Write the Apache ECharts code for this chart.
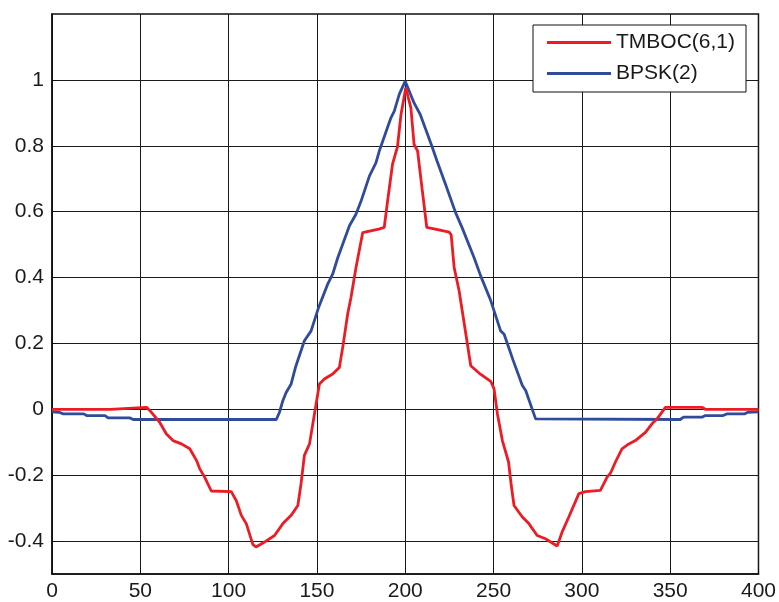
<!DOCTYPE html>
<html>
<head>
<meta charset="utf-8">
<script src="https://cdn.jsdelivr.net/npm/echarts@6/dist/echarts.min.js"></script>
<style>html,body{margin:0;padding:0;background:#fff;}#c{width:779px;height:602px;}</style>
</head>
<body>
<div id="c"></div>
<script>
var seriesNames = ['TMBOC(6,1)', 'BPSK(2)'];
var xTicks = [0, 50, 100, 150, 200, 250, 300, 350, 400];
var yTicks = [-0.4, -0.2, 0, 0.2, 0.4, 0.6, 0.8, 1];

var tmbocData = [
  [0,0],[33,0],[34,0.006],[53.5,0.006],[56.3,-0.009],[61,-0.04],[64.8,-0.075],[68.5,-0.095],
  [73.3,-0.105],[78,-0.12],[81.8,-0.155],[83.6,-0.18],[86.4,-0.206],[90.2,-0.248],[101.5,-0.25],
  [104.3,-0.277],[107.2,-0.322],[110,-0.347],[113.7,-0.41],[115.5,-0.418],[120.3,-0.403],
  [126,-0.383],[130.7,-0.347],[135.4,-0.322],[139.2,-0.292],[141,-0.226],[142.9,-0.14],
  [145.8,-0.105],[148.6,-0.014],[151.4,0.077],[154.2,0.092],[158.9,0.107],[162.7,0.127],
  [164.6,0.188],[167.4,0.289],[169.3,0.34],[172.1,0.43],[175.9,0.536],[179.7,0.541],
  [185,0.547],[188.1,0.552],[190,0.632],[192.8,0.744],[195.6,0.797],[197.6,0.895],
  [200.3,0.976],[203.2,0.915],[205,0.804],[207,0.784],[209.8,0.658],[212.2,0.552],
  [219,0.545],[224.9,0.538],[226,0.53],[227.7,0.43],[230.5,0.36],[235.2,0.198],[237.1,0.132],
  [241.8,0.11],[248.4,0.085],[250.3,0.062],[252.2,-0.014],[255,-0.095],[258.5,-0.16],
  [260,-0.23],[261.6,-0.292],[266.3,-0.327],[270,-0.347],[274.7,-0.383],[279.4,-0.393],
  [286,-0.415],[288.8,-0.373],[292.6,-0.327],[298.3,-0.256],[302,-0.25],[310.5,-0.246],
  [314.3,-0.206],[316.2,-0.194],[319,-0.16],[322.7,-0.12],[326.6,-0.105],[330.3,-0.095],
  [336,-0.07],[339.7,-0.044],[342.6,-0.029],[347.3,0.006],[368,0.006],[369.9,0],[400,0]
];

var bpskData = [
  [0,-0.008],[4,-0.009],[6.4,-0.014],[18,-0.014],[19.6,-0.019],[30,-0.019],[31.8,-0.026],
  [44,-0.026],[46,-0.031],[127,-0.031],[128.8,-0.009],[130.7,0.026],[132.5,0.05],[135.4,0.077],
  [138,0.13],[142.9,0.208],[146.7,0.238],[151,0.31],[156.1,0.38],[158.9,0.41],[161.8,0.46],
  [168.4,0.557],[172.1,0.592],[175,0.632],[179.7,0.708],[183.4,0.748],[185.3,0.784],
  [191.9,0.885],[193.8,0.905],[196.6,0.956],[200,0.996],[205,0.93],[208.5,0.895],[215,0.80],
  [218,0.754],[223,0.68],[228.5,0.597],[232.3,0.55],[239,0.46],[242.7,0.405],[248.4,0.33],
  [254,0.238],[256,0.228],[261,0.15],[266.3,0.072],[268.2,0.057],[273.8,-0.029],[355.7,-0.031],
  [357.6,-0.024],[368,-0.024],[369.9,-0.019],[380,-0.019],[382,-0.014],[392,-0.014],
  [394,-0.009],[400,-0.008]
];

var FONT = 'Liberation Sans, Arial, Helvetica, sans-serif';
var chart = echarts.init(document.getElementById('c'), null, {renderer: 'canvas'});
chart.setOption({
  animation: false,
  backgroundColor: '#fff',
  grid: {left: 52, right: 19, top: 14, bottom: 28, show: true, borderColor: '#111', borderWidth: 1.5, backgroundColor: 'transparent'},
  legend: {
    data: seriesNames.map(function (n) { return {name: n, icon: 'rect'}; }),
    orient: 'vertical',
    left: 533, top: 25,
    itemWidth: 64, itemHeight: 3, itemGap: 10,
    padding: [7, 11, 8, 14],
    backgroundColor: '#fff',
    borderColor: '#111', borderWidth: 1,
    textStyle: {fontFamily: FONT, fontSize: 21, color: '#1a1a1a'}
  },
  xAxis: {
    type: 'value', min: 0, max: 400, interval: 50,
    axisLine: {show: true, onZero: false, lineStyle: {color: '#111', width: 1.5}},
    axisTick: {show: true, inside: true, length: 6, lineStyle: {color: '#111'}},
    splitLine: {show: true, lineStyle: {color: '#1a1a1a', width: 1}},
    axisLabel: {fontFamily: FONT, fontSize: 21, color: '#1a1a1a', margin: 7}
  },
  yAxis: {
    type: 'value', min: -0.5, max: 1.2,
    axisLine: {show: true, onZero: false, lineStyle: {color: '#111', width: 1.5}},
    axisTick: {show: true, inside: true, length: 6, customValues: yTicks, lineStyle: {color: '#111'}},
    splitLine: {show: true, lineStyle: {color: '#1a1a1a', width: 1}},
    axisLabel: {fontFamily: FONT, fontSize: 21, color: '#1a1a1a', margin: 8, customValues: yTicks}
  },
  series: [
    {name: seriesNames[0], type: 'line', data: tmbocData, showSymbol: false, symbol: 'none',
     lineStyle: {color: '#ed1c24', width: 2.8}, itemStyle: {color: '#ed1c24'}, z: 3},
    {name: seriesNames[1], type: 'line', data: bpskData, showSymbol: false, symbol: 'none',
     lineStyle: {color: '#2f4b9c', width: 2.8}, itemStyle: {color: '#2f4b9c'}, z: 2}
  ]
});
</script>
</body>
</html>
